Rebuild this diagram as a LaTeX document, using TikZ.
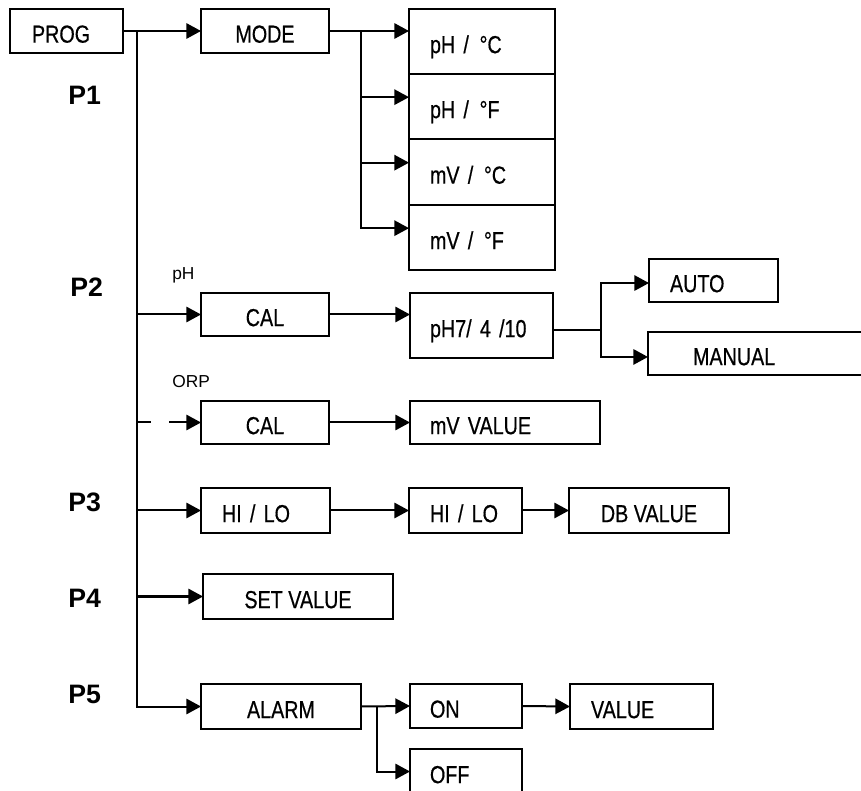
\documentclass[tikz,border=0pt]{standalone}
\usepackage{fontspec}
\setmainfont{Liberation Sans}
\newfontfamily\narrowsans[FakeStretch=0.8, FakeBold=0.5]{Liberation Sans}
\usetikzlibrary{arrows.meta,calc}
\tikzset{
  menubox/.style={draw, line width=1.5pt, outer sep=0pt, inner ysep=0pt,
                  font=\narrowsans\fontsize{18.5}{22}\selectfont, text height=18.5pt, text depth=1pt},
  cbox/.style 2 args={menubox, anchor=north west, inner xsep=0pt,
                      minimum width=#1*0.75pt, minimum height=#2*0.75pt},
  lbox/.style n args={3}{menubox, anchor=north west, align=left, minimum height=#2*0.75pt,
                         inner xsep=#3*0.75pt, text width=(#1-2*#3)*0.75pt},
  plabel/.style={anchor=base west, inner sep=0pt, font=\bfseries\fontsize{20}{24}\selectfont},
  sublabel/.style={anchor=base west, inner sep=0pt, font=\fontsize{13}{15}\selectfont},
  link/.style={line width=1.5pt},
  arrow/.style={link, -{Triangle[length=11pt, width=11.5pt]}}
}

\begin{document}
\begin{tikzpicture}[x=0.75pt, y=-0.75pt]
\useasboundingbox (0,0) rectangle (861,791);
\clip (0,0) rectangle (861,791);
\node[lbox={113}{44}{22}] (prog) at (10,9) {PROG};
\node[cbox={128}{44}] (mode) at (201,9) {MODE};
\node[lbox={146}{65}{21}] (pHC) at (409,9) {pH /\hspace{8pt}°C};
\node[lbox={146}{65}{21}] (pHF) at (409,74) {pH /\hspace{8pt}°F};
\node[lbox={146}{66}{21}] (mVC) at (409,139) {mV /\hspace{8pt}°C};
\node[lbox={146}{65}{21}] (mVF) at (409,205) {mV /\hspace{8pt}°F};
\node[plabel] (pone) at (68,105) {P1};
\node[plabel] (ptwo) at (70,297) {P2};
\node[plabel] (pthree) at (68,512) {P3};
\node[plabel] (pfour) at (68,607) {P4};
\node[plabel] (pfive) at (68,703) {P5};
\node[sublabel] (lblph) at (172,280) {pH};
\node[sublabel] (lblorp) at (172,388) {ORP};
\node[cbox={128}{43}] (calph) at (201,293) {CAL};
\node[lbox={143}{65}{20}] (phbuf) at (410,293) {pH7/ 4 /10};
\node[lbox={129}{43}{21}] (auto) at (649,259) {AUTO};
\node[lbox={220}{43}{45}] (manual) at (648,332) {MANUAL};
\node[cbox={128}{43}] (calorp) at (201,401) {CAL};
\node[lbox={190}{43}{20}] (mvval) at (410,401) {mV VALUE};
\node[lbox={129}{45}{21}] (hilo) at (201,488) {HI / LO};
\node[lbox={113}{45}{21}] (hilob) at (409,488) {HI / LO};
\node[cbox={160}{45}] (dbval) at (569,488) {DB VALUE};
\node[cbox={190}{45}] (setval) at (203,574) {SET VALUE};
\node[cbox={160}{45}] (alarm) at (201,684) {ALARM};
\node[lbox={112}{44}{20}] (on) at (410,684) {ON};
\node[lbox={112}{45}{20}] (off) at (410,749) {OFF};
\node[lbox={143}{45}{21}] (alval) at (570,684) {VALUE};
\coordinate (trunk) at ($(prog.east)+(14,0)$);
\coordinate (mfork) at ($(mode.east)+(32,0)$);
\draw[arrow] (prog.east) -- (mode.west);
\draw[arrow] (trunk) |- (alarm.west);
\draw[arrow] (trunk |- calph.west) -- (calph.west);
\draw[arrow, dash pattern=on 10.5pt off 13.5pt on 40pt] (trunk |- calorp.west) -- (calorp.west);
\draw[arrow] (trunk |- hilo.west) -- (hilo.west);
\draw[arrow] (trunk |- setval.west) -- (setval.west);
\draw[arrow] (mode.east) -- (mode.east -| pHC.west);
\foreach \cell in {pHF,mVC,mVF}
  \draw[arrow] (mfork) |- ([yshift=7pt]\cell.west);
\draw[arrow] (calph.east) -- (calph.east -| phbuf.west);
\draw[link] ([yshift=-3.4pt]phbuf.east) -- ++(48,0) coordinate (bfork);
\draw[arrow] (bfork) |- ([yshift=-1.9pt]auto.west);
\draw[arrow] (bfork) |- ([yshift=-2.6pt]manual.west);
\draw[arrow] (calorp.east) -- (mvval.west);
\draw[arrow] (hilo.east) -- (hilob.west);
\draw[arrow] (hilob.east) -- (dbval.west);
\draw[arrow] (alarm.east) -- (on.west);
\draw[arrow] ($(alarm.east)+(16,0)$) |- (off.west);
\draw[arrow] (on.east) -- (alval.west);
\end{tikzpicture}
\end{document}
